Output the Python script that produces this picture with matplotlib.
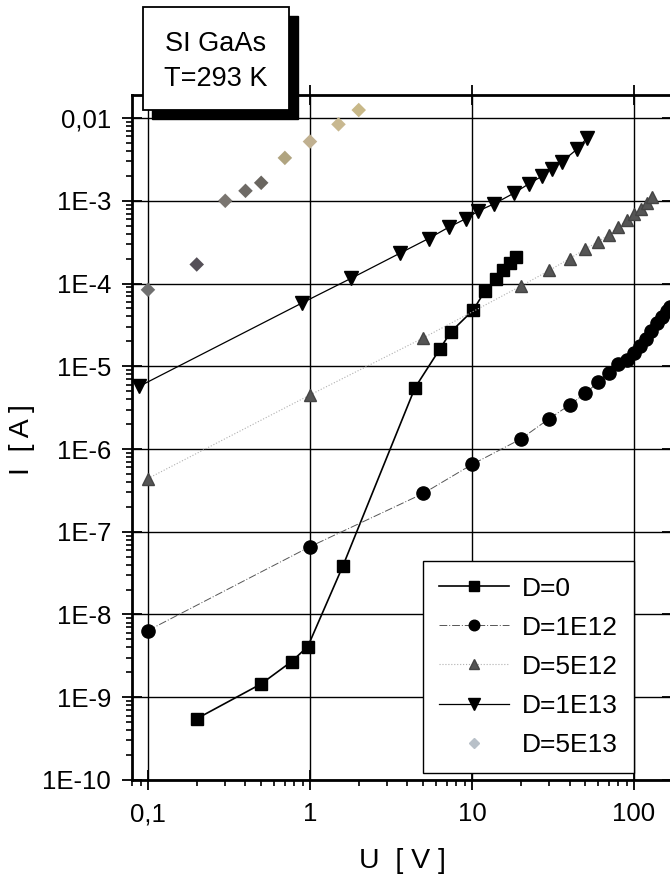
import numpy as np
import matplotlib
matplotlib.use('Agg')
import matplotlib.pyplot as plt
from matplotlib.patches import Rectangle
from matplotlib.ticker import LogLocator, FixedLocator, NullFormatter

plt.rcParams['font.family'] = ['Liberation Sans', 'DejaVu Sans']

#------------------------ data ------------------------

# D=0
U0 = [0.2, 0.5, 0.77, 0.97, 1.6, 4.45, 6.35, 7.4, 10.2, 12, 14, 15.6, 17.1, 18.7]
I0 = [5.5e-10, 1.45e-9, 2.7e-9, 4.1e-9, 3.9e-8, 5.5e-6, 1.63e-5, 2.6e-5, 4.8e-5,
      8.1e-5, 1.12e-4, 1.44e-4, 1.78e-4, 2.1e-4]

# D=1E12
U1 = [0.1, 1, 5, 10, 20, 30, 40, 50, 60, 70, 80, 90, 100, 109, 118, 128, 139, 148, 159, 168]
I1 = [6.4e-9, 6.6e-8, 2.9e-7, 6.5e-7, 1.32e-6, 2.33e-6, 3.4e-6, 4.7e-6, 6.4e-6, 8.4e-6,
      1.06e-5, 1.2e-5, 1.43e-5, 1.78e-5, 2.15e-5, 2.7e-5, 3.3e-5, 3.9e-5, 4.6e-5, 5.2e-5]

# D=5E12
U2 = [0.1, 1, 5, 20, 30, 40, 50, 60, 70, 80, 90, 100, 111, 120, 130]
I2 = [4.4e-7, 4.5e-6, 2.2e-5, 9.3e-5, 1.44e-4, 2.0e-4, 2.6e-4, 3.2e-4, 3.9e-4, 4.8e-4,
      5.8e-4, 6.9e-4, 8.0e-4, 9.3e-4, 1.11e-3]

# D=1E13
U3 = [0.088, 0.89, 1.8, 3.6, 5.4, 7.2, 9.2, 10.9, 13.7, 18.2, 22.4, 27, 31, 35.7, 44.5, 51.5]
I3 = [5.7e-6, 5.8e-5, 1.16e-4, 2.33e-4, 3.5e-4, 4.8e-4, 6.1e-4, 7.5e-4, 9.2e-4, 1.24e-3,
      1.6e-3, 1.98e-3, 2.45e-3, 2.95e-3, 4.2e-3, 5.8e-3]

# D=5E13
U4 = [0.1, 0.2, 0.3, 0.4, 0.5, 0.7, 1.0, 1.5, 2.0]
I4 = [8.4e-5, 1.7e-4, 1.0e-3, 1.32e-3, 1.65e-3, 3.3e-3, 5.2e-3, 8.4e-3, 1.25e-2]

labels = ['D=0', 'D=1E12', 'D=5E12', 'D=1E13', 'D=5E13']

#------------------- Plotting ---------------
fig = plt.figure(figsize=(6.7, 8.74), dpi=100)
ax = fig.add_axes([0.197, 0.1076, 0.806, 0.7837])
ax.set_xscale('log')
ax.set_yscale('log')
ax.set_xlim(0.0797, 171.7)
ax.set_ylim(1e-10, 0.019)

ax.grid(True, which='major', color='black', lw=1.0)
ax.set_axisbelow(True)

ax.plot(U0, I0, '-', color='black', lw=1.2, marker='s', ms=8.5, mfc='black', mec='black',
        label=labels[0], zorder=4)
ax.plot(U1, I1, color='#555555', lw=0.7, ls=(0, (8, 2, 1, 2)), marker='o', ms=9.5,
        mfc='black', mec='black', label=labels[1], zorder=4)
ax.plot(U2, I2, color='#b0b0b0', lw=0.8, ls=':', marker='^', ms=8.5,
        mfc='#555555', mec='#444444', label=labels[2], zorder=4)
ax.plot(U3, I3, '-', color='black', lw=0.9, marker='v', ms=10,
        mfc='black', mec='black', label=labels[3], zorder=4)

# D=5E13 points fade from grey to a pale tan in the scan
dcols = ['#707070', '#555058', '#7a7570', '#6e6a66', '#6a6660',
         '#b0a480', '#c0b090', '#c8b890', '#c8b888']
ax.scatter(U4, I4, marker='D', s=55, c=dcols, edgecolors='none', zorder=4)
ax.plot([], [], ls='none', marker='D', ms=6, mfc='#b8c0c8', mec='#b8c0c8', label=labels[4])

# ticks
ax.xaxis.set_major_locator(FixedLocator([0.1, 1, 10, 100]))
ax.set_xticklabels(['0,1', '1', '10', '100'])
ax.xaxis.set_minor_locator(LogLocator(base=10, subs=np.arange(2, 10), numticks=20))
ax.xaxis.set_minor_formatter(NullFormatter())
ax.yaxis.set_major_locator(FixedLocator([1e-10, 1e-9, 1e-8, 1e-7, 1e-6, 1e-5, 1e-4, 1e-3, 1e-2]))
ax.set_yticklabels(['1E-10', '1E-9', '1E-8', '1E-7', '1E-6', '1E-5', '1E-4', '1E-3', '0,01'])
ax.yaxis.set_minor_locator(LogLocator(base=10, subs=np.arange(2, 10), numticks=20))
ax.yaxis.set_minor_formatter(NullFormatter())

ax.tick_params(which='major', direction='inout', length=14, width=1.3, labelsize=18.5,
               top=True, right=True)
ax.tick_params(which='minor', direction='out', length=4, width=1.2, top=False, right=False)
ax.tick_params(axis='y', which='major', pad=8)
ax.tick_params(axis='x', which='major', pad=9)
for s in ax.spines.values():
    s.set_linewidth(2.0)

ax.set_xlabel('U  [ V ]', fontsize=20.5, labelpad=16)
fig.text(22 / 670, 1 - 440 / 874, 'I  [ A ]', rotation=90, ha='center', va='center', fontsize=20.5)

leg = ax.legend(loc='lower left', bbox_to_anchor=(0.631, 0.116), bbox_transform=fig.transFigure,
                borderaxespad=0, fontsize=19, fancybox=False, framealpha=1, edgecolor='black',
                handlelength=2.65, handletextpad=0.5, labelspacing=0.57, borderpad=0.6,
                markerscale=0.8)
leg.get_frame().set_linewidth(1.0)
leg.set_zorder(6)

# sample label box with drop shadow
bx, by, bw, bh = 0.213, 0.8741, 0.2184, 0.1175
fig.patches.append(Rectangle((bx + 0.0134, by - 0.0103), bw, bh, transform=fig.transFigure,
                             facecolor='black', edgecolor='black', zorder=7))
fig.patches.append(Rectangle((bx, by), bw, bh, transform=fig.transFigure,
                             facecolor='white', edgecolor='black', lw=1.3, zorder=8))
fig.text(bx + bw / 2, by + bh * 0.64, 'SI GaAs', ha='center', va='center', fontsize=19.5, zorder=9)
fig.text(bx + bw / 2, by + bh * 0.30, 'T=293 K', ha='center', va='center', fontsize=19.5, zorder=9)

fig.savefig('out.png', dpi=100)
